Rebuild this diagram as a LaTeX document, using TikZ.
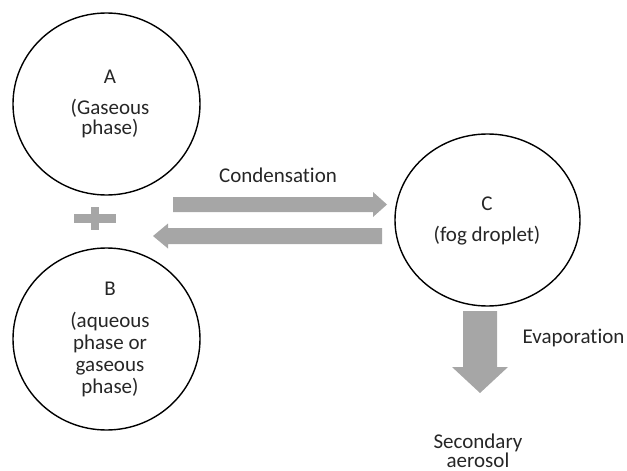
\documentclass[tikz,border=0pt]{standalone}
\usepackage{fontspec}
\setmainfont{Carlito}[RawFeature=-liga]
\usetikzlibrary{shapes.geometric}
\definecolor{arrgray}{RGB}{166,166,166}
\definecolor{txt}{RGB}{38,38,38}
\tikzset{
  bubble/.style={draw=black, line width=1.4pt, ellipse, inner sep=0pt},
  lbl/.style={anchor=base, inner sep=0pt, text=txt, font=\fontsize{21}{24}\selectfont},
  blockarrow/.style={fill=arrgray, draw=none}
}
\begin{document}
\begin{tikzpicture}[x=1pt, y=-1pt]
\useasboundingbox (0,0) rectangle (627,471);
% circles
\node[bubble, minimum width=187pt, minimum height=182pt] (A) at (106.5,104) {};
\node[bubble, minimum width=187pt, minimum height=182pt] (B) at (106.5,339) {};
\node[bubble, minimum width=185pt, minimum height=172pt] (C) at (487.5,220) {};
% texts in A
\node[lbl] (tA) at (110,83) {A};
\node[lbl] (tA1) at (110,114) {(Gaseous};
\node[lbl] (tA2) at (110,134) {phase)};
% texts in B
\node[lbl] (tB) at (110,295) {B};
\node[lbl] (tB1) at (110,327) {(aqueous};
\node[lbl] (tB2) at (110,349) {phase or};
\node[lbl] (tB3) at (110,371) {gaseous};
\node[lbl] (tB4) at (110,393) {phase)};
% texts in C
\node[lbl] (tC) at (487,210) {C};
\node[lbl] (tC1) at (487,241) {(fog droplet)};
% labels
\node[lbl] (cond) at (278,182) {Condensation};
\node[lbl] (evap) at (573.5,343) {Evaporation};
\node[lbl] (sec1) at (478,448) {Secondary};
\node[lbl] (sec2) at (478,467) {aerosol};
% plus sign
\fill[arrgray] (74,214) rectangle (116,223);
\fill[arrgray] (91,207) rectangle (99,230);
% right arrow
\fill[blockarrow] (173,197) -- (373,197) -- (373,192) -- (387,204.5) -- (373,217) -- (373,212) -- (173,212) -- cycle;
% left arrow
\fill[blockarrow] (382,228) -- (168,228) -- (168,223.5) -- (153,236) -- (168,248.5) -- (168,244) -- (382,244) -- cycle;
% down arrow
\fill[blockarrow] (463,311) -- (497,311) -- (497,367) -- (508,367) -- (480,393) -- (452,367) -- (463,367) -- cycle;
\end{tikzpicture}
\end{document}
